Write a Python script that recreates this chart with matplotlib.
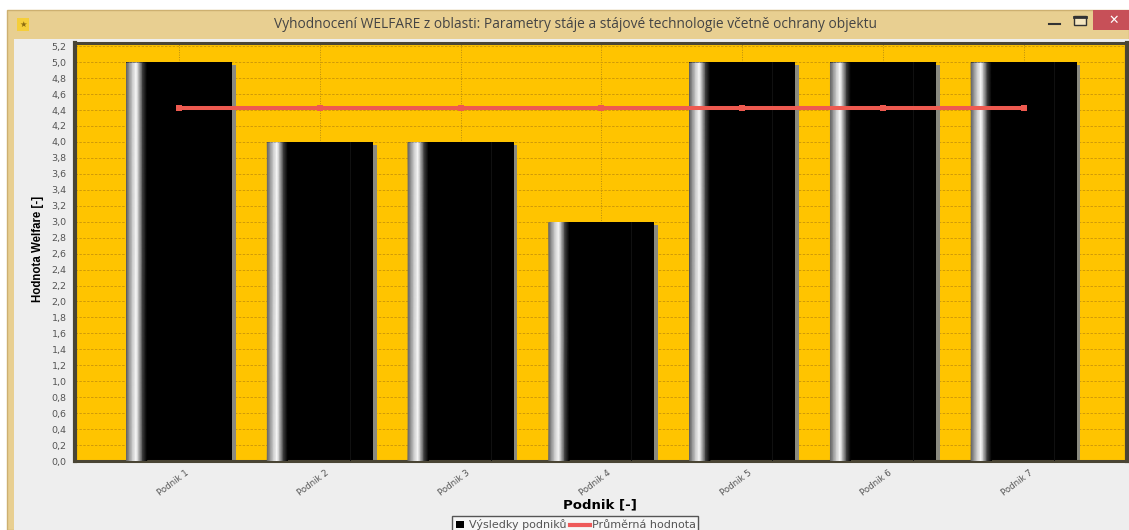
import numpy as np
from matplotlib import pyplot as plt
from matplotlib.patches import Rectangle
from matplotlib.transforms import ScaledTranslation

W, H = 1129, 530

title = "Vyhodnocení WELFARE z oblasti: Parametry stáje a stájové technologie včetně ochrany objektu"
categories = ["Podnik 1", "Podnik 2", "Podnik 3", "Podnik 4", "Podnik 5", "Podnik 6", "Podnik 7"]
results = [5.0, 4.0, 4.0, 3.0, 5.0, 5.0, 5.0]
average = [4.43, 4.43, 4.43, 4.43, 4.43, 4.43, 4.43]
y_ticks = [0.0, 0.2, 0.4, 0.6, 0.8, 1.0, 1.2, 1.4, 1.6, 1.8, 2.0, 2.2, 2.4, 2.6,
           2.8, 3.0, 3.2, 3.4, 3.6, 3.8, 4.0, 4.2, 4.4, 4.6, 4.8, 5.0, 5.2]

plt.rcParams['font.family'] = ['Liberation Sans', 'DejaVu Sans']

fig = plt.figure(figsize=(W / 100, H / 100), dpi=100, facecolor='white')


def px_axes(left, top, right, bottom, **kw):
    # axes placed in pixel coordinates, origin top left
    return fig.add_axes([left / W, 1 - bottom / H, (right - left) / W, (bottom - top) / H], **kw)


# window frame behind everything
back = fig.add_axes([0, 0, 1, 1])
back.set_xlim(0, W)
back.set_ylim(H, 0)
back.axis('off')
back.add_patch(Rectangle((7, 10), W - 7, H - 10, fc='#E8CF91', ec='#CDB070', lw=1))
back.add_patch(Rectangle((14, 39), W - 14, H - 39, fc='#EEEEEE', ec='none'))
back.add_patch(Rectangle((1093, 10), 36, 20, fc='#C75058', ec='none'))
back.text(1114, 20, "✕", color='white', fontsize=9, ha='center', va='center',
          family='DejaVu Sans', fontweight='bold')
back.plot([1049, 1060], [24, 24], color='#333333', lw=1.5)
back.add_patch(Rectangle((1074, 16), 12, 9, fc='#F5E6C0', ec='#333333', lw=1))
back.plot([1074, 1086], [17, 17], color='#333333', lw=2)
back.add_patch(Rectangle((17, 18), 12, 13, fc='#F5CE3A', ec='none'))
back.text(23, 24.5, "★", color='#8A6A10', fontsize=6, ha='center', va='center', family='DejaVu Sans')
back.text(576, 25, title, color='#444444', fontsize=9.95, ha='center', va='center',
          family=['Open Sans', 'DejaVu Sans'])

AX_L, AX_T, AX_R, AX_B = 75, 43, 1127, 461
ax = px_axes(AX_L, AX_T, AX_R, AX_B)
ax.set_facecolor('#FFC400')
xpos = np.arange(len(categories))
ax.set_xlim(-0.74, 6.733)
ax.set_ylim(0, 5.24)

ax.set_yticks(y_ticks)
ax.set_yticklabels([f"{v:.1f}".replace('.', ',') for v in y_ticks], fontsize=6.8, color='#555555',
                   family='DejaVu Sans')
ax.tick_params(axis='y', length=0, pad=6)
ax.tick_params(axis='x', length=0, pad=5)
ax.set_xticks(xpos)
ax.set_xticklabels(categories, fontsize=6.2, color='#555555', rotation=37, ha='right',
                   rotation_mode='anchor', family='DejaVu Sans')
# nudge the slanted labels so they end just right of the bar centre
nudge = ScaledTranslation(4 / 72, 0, fig.dpi_scale_trans)
for lab in ax.get_xticklabels():
    lab.set_transform(lab.get_transform() + nudge)
ax.grid(True, axis='y', color='#D09A08', ls=(0, (2.5, 1.5)), lw=0.7)
ax.grid(True, axis='x', color='#B88C10', ls=(0, (1, 1.5)), lw=0.7)
ax.set_axisbelow(True)
for s in ax.spines.values():
    s.set_color('#4A4534')
    s.set_linewidth(2.2)
ax.spines['left'].set_linewidth(3)
ax.spines['right'].set_linewidth(3)

# bars with a shaded stripe near the left edge and a grey edge on the right
bar_w = 106 / 140.8
stripe_w = 20 / 140.8
stripe_pos = np.array([0.0, 0.15, 0.3, 0.48, 0.62, 0.8, 1.0])
stripe_val = np.array([0.4, 0.6, 0.8, 0.97, 0.7, 0.25, 0.0])
for i, (x, v) in enumerate(zip(xpos, results)):
    left = x - bar_w / 2
    ax.add_patch(Rectangle((left + bar_w, 0), 0.026, v - 0.04, fc='#8A8A80', ec='none', zorder=2))
    ax.bar(x, v, width=bar_w, color='black', zorder=2.5)
    xx = left + 0.003 + stripe_pos * stripe_w
    mesh_x = np.vstack([xx, xx])
    mesh_y = np.vstack([np.zeros_like(xx), np.full_like(xx, v - 0.01)])
    mesh_c = np.vstack([stripe_val, stripe_val])
    ax.pcolormesh(mesh_x, mesh_y, mesh_c, cmap='gray', vmin=0, vmax=1, shading='gouraud', zorder=3)
    if i > 0:
        ax.plot([x + 30 / 140.8] * 2, [0, v], color='#111111', lw=0.7, zorder=3)

ax.plot(xpos, average, color='#EE5A50', lw=2.9, marker='s', ms=4.2, mew=0, zorder=4,
        solid_capstyle='butt')
ax.set_xlim(-0.74, 6.733)
ax.set_ylim(0, 5.24)

ax.set_ylabel("Hodnota Welfare [-]", fontsize=8.3, fontweight='bold', color='black')
ax.yaxis.set_label_coords(-(AX_L - 44) / (AX_R - AX_L), (461 - 249) / (AX_B - AX_T))
ax.set_xlabel("Podnik [-]", fontsize=9.5, fontweight='bold', color='black', family=['DejaVu Sans'])
ax.xaxis.set_label_coords((600 - AX_L) / (AX_R - AX_L), -(498 - AX_B) / (AX_B - AX_T))

# legend strip below the axes
back.add_patch(Rectangle((452, 516), 246, 16, fc='#F6F6F6', ec='#555555', lw=1))
back.add_patch(Rectangle((456, 521), 8, 7, fc='black', ec='none'))
back.text(469, 524.5, "Výsledky podniků", fontsize=8, color='#555555', va='center', family='DejaVu Sans')
back.plot([570, 590], [524.5, 524.5], color='#EE5A5A', lw=3)
back.text(592, 524.5, "Průměrná hodnota", fontsize=8, color='#555555', va='center', family='DejaVu Sans')

fig.savefig('out.png', dpi=100)
